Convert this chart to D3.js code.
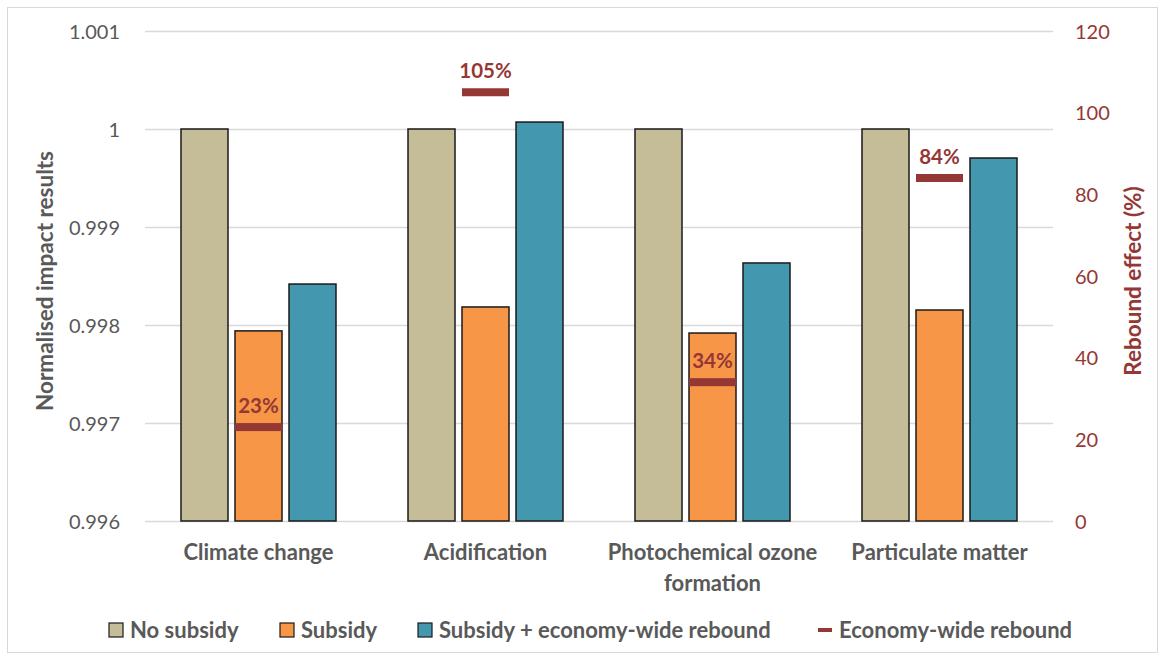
<!DOCTYPE html>
<html>
<head>
<meta charset="utf-8">
<script src="https://cdn.jsdelivr.net/npm/d3@7"></script>
<style>
  html, body { margin: 0; padding: 0; background: #fff; }
  svg { display: block; font-family: Lato, "Open Sans", "Noto Sans", sans-serif; }
</style>
</head>
<body>
<svg id="chart" width="1165" height="660"></svg>
<script>
// Impact categories
const categories = ["Climate change", "Acidification", "Photochemical ozone formation", "Particulate matter"];
const categoryLines = [["Climate change"], ["Acidification"], ["Photochemical ozone", "formation"], ["Particulate matter"]];

// Normalised impact results per scenario
const seriesNames = ["No subsidy", "Subsidy", "Subsidy + economy-wide rebound"];
const noSubsidy = [1.0, 1.0, 1.0, 1.0];
const subsidy = [0.99794, 0.998184, 0.997918, 0.998153];
const subsidyRebound = [0.998418, 1.000071, 0.998633, 0.999704];

// Economy-wide rebound effect (%)
const rebound = [23, 105, 34, 84];

// Axis ticks
const leftTicks = [0.996, 0.997, 0.998, 0.999, 1, 1.001];
const rightTicks = [0, 20, 40, 60, 80, 100, 120];

const colors = ["#C4BD97", "#F79646", "#4398B0"];
const reboundColor = "#953735";
const textColor = "#595959";

const svg = d3.select("#chart");
const W = 1165, H = 660;
const plot = { left: 145, right: 1053, top: 31, bottom: 521 };

// outer frame
svg.append("rect").attr("x", 7.5).attr("y", 7.5).attr("width", W - 15).attr("height", H - 15)
  .attr("fill", "#fff").attr("stroke", "#d9d9d9").attr("stroke-width", 1);

const x0 = d3.scaleBand().domain(categories).range([plot.left, plot.right]).paddingInner(0).paddingOuter(0);
const barW = 47, gap = 7;
const groupW = 3 * barW + 2 * gap;
const x1 = d3.scaleOrdinal().domain(seriesNames).range(seriesNames.map((_, i) => i * (barW + gap) - groupW / 2));

const yL = d3.scaleLinear().domain([0.996, 1.001]).range([plot.bottom, plot.top]);
const yR = d3.scaleLinear().domain([0, 120]).range([plot.bottom, plot.top]);

// gridlines
svg.append("g").selectAll("line").data(leftTicks).join("line")
  .attr("x1", plot.left).attr("x2", plot.right)
  .attr("y1", d => Math.round(yL(d)) + 0.5).attr("y2", d => Math.round(yL(d)) + 0.5)
  .attr("stroke", "#d9d9d9").attr("stroke-width", 1.5);

// left axis
const leftAxis = svg.append("g").attr("transform", `translate(${plot.left - 25},0)`)
  .call(d3.axisLeft(yL).tickValues(leftTicks).tickSize(0).tickFormat(d => d3.format("")(+d.toFixed(3))));
leftAxis.select(".domain").remove();
leftAxis.selectAll("text").attr("fill", textColor).style("font-size", "20px")
  .style("font-family", "Lato, 'Open Sans', sans-serif").attr("dy", "0.35em").attr("x", 0);

// right axis
const rightAxis = svg.append("g").attr("transform", `translate(${plot.right + 22},0)`)
  .call(d3.axisRight(yR).tickValues(rightTicks).tickSize(0));
rightAxis.select(".domain").remove();
rightAxis.selectAll("text").attr("fill", reboundColor).style("font-size", "20px")
  .style("font-family", "Lato, 'Open Sans', sans-serif").attr("dy", "0.35em").attr("x", 0);

// bars
const seriesData = [noSubsidy, subsidy, subsidyRebound];
const barData = [];
categories.forEach((c, ci) => {
  seriesNames.forEach((s, si) => barData.push({ c, s, si, v: seriesData[si][ci] }));
});
const cx = c => x0(c) + x0.bandwidth() / 2;

svg.append("g").selectAll("rect").data(barData).join("rect")
  .attr("x", d => cx(d.c) + x1(d.s))
  .attr("y", d => yL(d.v))
  .attr("width", barW)
  .attr("height", d => yL(0.996) - yL(d.v))
  .attr("fill", d => colors[d.si])
  .attr("stroke", "#1a1a1a").attr("stroke-width", 1.5);

// rebound markers on the subsidy position
const markers = svg.append("g");
categories.forEach((c, ci) => {
  const mx = cx(c) + x1("Subsidy");
  const my = yR(rebound[ci]);
  markers.append("rect").attr("x", mx).attr("y", my - 4).attr("width", barW).attr("height", 8)
    .attr("fill", reboundColor);
  markers.append("text").attr("x", mx + barW / 2).attr("y", my - 14)
    .attr("text-anchor", "middle").attr("fill", reboundColor)
    .style("font-size", "20.5px").style("font-weight", "bold")
    .text(rebound[ci] + "%");
});

// category labels
const catG = svg.append("g");
categories.forEach((c, ci) => {
  const t = catG.append("text").attr("x", cx(c)).attr("y", 560).attr("text-anchor", "middle")
    .attr("fill", textColor).style("font-size", "22px").style("font-weight", "bold");
  categoryLines[ci].forEach((line, li) => {
    t.append("tspan").attr("x", cx(c)).attr("dy", li === 0 ? 0 : 31).text(line);
  });
});

// axis titles
svg.append("text").attr("transform", `translate(53,${(plot.top + plot.bottom) / 2 + 5}) rotate(-90)`)
  .attr("text-anchor", "middle").attr("fill", textColor)
  .style("font-size", "22.5px").style("font-weight", "bold").text("Normalised impact results");
svg.append("text").attr("transform", `translate(1141,${(plot.top + plot.bottom) / 2 + 5}) rotate(-90)`)
  .attr("text-anchor", "middle").attr("fill", reboundColor)
  .style("font-size", "22.5px").style("font-weight", "bold").text("Rebound effect (%)");

// legend
const legendItems = [
  { label: seriesNames[0], type: "box", color: colors[0], x: 109 },
  { label: seriesNames[1], type: "box", color: colors[1], x: 280 },
  { label: seriesNames[2], type: "box", color: colors[2], x: 418 },
  { label: "Economy-wide rebound", type: "line", color: reboundColor, x: 818 }
];
const lg = svg.append("g");
legendItems.forEach(it => {
  if (it.type === "box") {
    lg.append("rect").attr("x", it.x).attr("y", 623).attr("width", 14).attr("height", 14)
      .attr("fill", it.color).attr("stroke", "#1a1a1a").attr("stroke-width", 1.2);
  } else {
    lg.append("rect").attr("x", it.x).attr("y", 628).attr("width", 14).attr("height", 4)
      .attr("fill", it.color);
  }
  lg.append("text").attr("x", it.x + 21).attr("y", 638).attr("fill", textColor)
    .style("font-size", "22px").style("font-weight", "bold").text(it.label);
});
</script>
</body>
</html>
